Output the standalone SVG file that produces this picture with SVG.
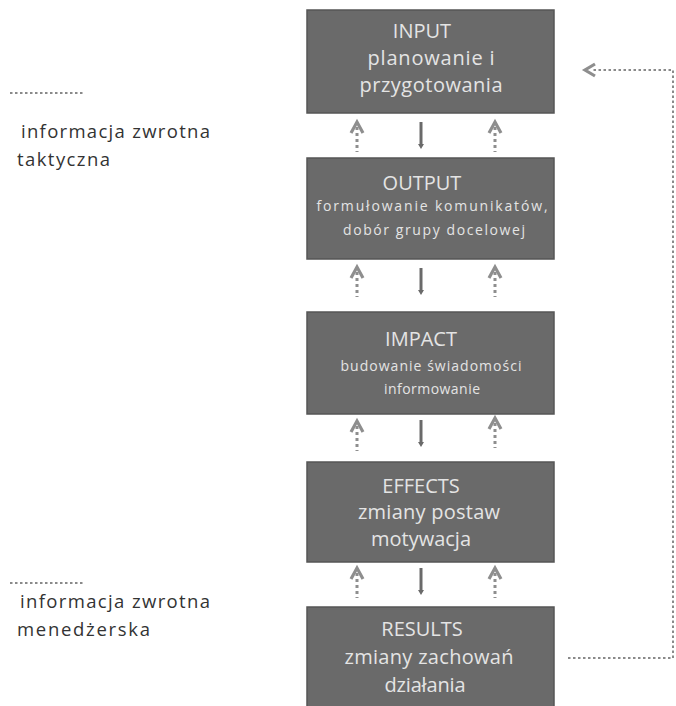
<svg xmlns="http://www.w3.org/2000/svg" width="676" height="706" viewBox="0 0 676 706">
<style>
.box{fill:#6a6a6a;stroke:#565656;stroke-width:1.5}
.t{font-family:"Open Sans","Liberation Sans",sans-serif;fill:#e4e4e4;text-anchor:middle}
.big{font-size:20px}
.sm{font-size:14px}
.lbl{font-family:"Open Sans","Liberation Sans",sans-serif;font-size:18.5px;fill:#333}
.fb{fill:none;stroke:#8a8a8a;stroke-width:2;stroke-dasharray:2.5,2.5}
.dot{fill:none;stroke:#8e8e8e;stroke-width:3;stroke-dasharray:3,3}
.chev{fill:none;stroke:#8e8e8e;stroke-width:3.2;stroke-linejoin:miter}
.solid{stroke:#6a6a6a;stroke-width:3}
</style>
<defs>
<g id="up">
<polyline class="chev" points="-6,13 0,2 6,13"/>
<line class="dot" x1="0" y1="7" x2="0" y2="32"/>
</g>
<g id="down">
<line class="solid" x1="0" y1="0" x2="0" y2="24"/>
<polygon points="-3,22 3,22 0,27" fill="#6a6a6a"/>
</g>
</defs>

<g id="side-labels">
<line class="fb" x1="10" y1="93" x2="84" y2="93"/>
<text class="lbl" x="21" y="138" textLength="189" lengthAdjust="spacing">informacja zwrotna</text>
<text class="lbl" x="17" y="166" textLength="93" lengthAdjust="spacing">taktyczna</text>
<line class="fb" x1="10" y1="583" x2="84" y2="583"/>
<text class="lbl" x="20" y="608" textLength="190" lengthAdjust="spacing">informacja zwrotna</text>
<text class="lbl" x="17" y="636" textLength="133" lengthAdjust="spacing">menedżerska</text>
</g>

<g id="input">
<rect class="box" x="307" y="10" width="247" height="103"/>
<text class="t big" x="422" y="38">INPUT</text>
<text class="t big" x="431" y="65" textLength="127" lengthAdjust="spacing">planowanie i</text>
<text class="t big" x="431" y="92" textLength="143" lengthAdjust="spacing">przygotowania</text>
</g>

<g id="output">
<rect class="box" x="307" y="158" width="247" height="101"/>
<text class="t big" x="422" y="190">OUTPUT</text>
<text class="t sm" x="432" y="211" textLength="231" lengthAdjust="spacing">formułowanie  komunikatów,</text>
<text class="t sm" x="434" y="235" textLength="182" lengthAdjust="spacing">dobór grupy docelowej</text>
</g>

<g id="impact">
<rect class="box" x="307" y="312" width="247" height="102"/>
<text class="t big" x="421" y="346">IMPACT</text>
<text class="t sm" x="431" y="371" textLength="181" lengthAdjust="spacing">budowanie  świadomości</text>
<text class="t sm" x="432" y="394" textLength="96" lengthAdjust="spacing">informowanie</text>
</g>

<g id="effects">
<rect class="box" x="307" y="462" width="247" height="100"/>
<text class="t big" x="421" y="493">EFFECTS</text>
<text class="t big" x="429" y="519" textLength="142" lengthAdjust="spacing">zmiany postaw</text>
<text class="t big" x="421" y="546">motywacja</text>
</g>

<g id="results">
<rect class="box" x="307" y="607" width="247" height="104"/>
<text class="t big" x="422" y="636">RESULTS</text>
<text class="t big" x="429" y="664" textLength="169" lengthAdjust="spacing">zmiany zachowań</text>
<text class="t big" x="425" y="692" textLength="81" lengthAdjust="spacing">działania</text>
</g>

<g id="connectors">
<use href="#up" x="357" y="120"/>
<use href="#up" x="495" y="120"/>
<use href="#down" x="421" y="122"/>
<use href="#up" x="357" y="265"/>
<use href="#up" x="495" y="265"/>
<use href="#down" x="421" y="268"/>
<use href="#up" x="357" y="419"/>
<use href="#up" x="495" y="416"/>
<use href="#down" x="421" y="420"/>
<use href="#up" x="357" y="566"/>
<use href="#up" x="495" y="566"/>
<use href="#down" x="421" y="568"/>
<polyline class="fb" points="568,658 673,658 673,70 592,70"/>
<polyline class="chev" points="595,64 585,70 595,76"/>
</g>
</svg>
